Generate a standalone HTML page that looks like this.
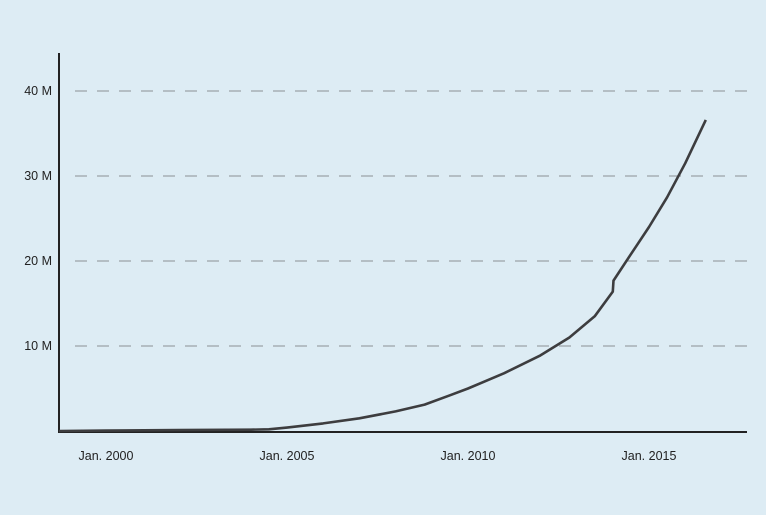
<!DOCTYPE html>
<html><head><meta charset="utf-8"><style>
html,body{margin:0;padding:0;background:#ddecf4;}
svg{display:block;font-family:"Liberation Sans",sans-serif;}
</style></head><body>
<svg id="chart" width="766" height="515" viewBox="0 0 766 515">
<rect width="766" height="515" fill="#ddecf4"/>
<g id="grid"></g>
<g id="ylabels"></g>
<g id="xlabels"></g>
<line x1="59" y1="53" x2="59" y2="432" stroke="#222" stroke-width="2"/>
<line x1="58" y1="432" x2="747" y2="432" stroke="#222" stroke-width="2"/>
<path id="line" fill="none" stroke="#3d3d3f" stroke-width="2.6" stroke-linejoin="round"/>
</svg>
<script>
const years = [1998.7, 2000, 2002, 2004, 2004.5, 2005, 2006, 2007, 2008, 2008.8, 2009.5, 2010, 2011, 2012, 2012.8, 2013.5, 2014.0, 2014.02, 2014.5, 2015, 2015.5, 2016, 2016.57];
const values = [0, 0.05, 0.1, 0.15, 0.2, 0.4, 0.9, 1.5, 2.3, 3.1, 4.2, 5.0, 6.8, 8.9, 11.0, 13.5, 16.4, 17.7, 20.8, 24.0, 27.5, 31.5, 36.6];
const yTicks = [10, 20, 30, 40];
const yTickLabels = ["10 M", "20 M", "30 M", "40 M"];
const xTicks = [2000, 2005, 2010, 2015];
const xTickLabels = ["Jan. 2000", "Jan. 2005", "Jan. 2010", "Jan. 2015"];

const x = yr => 106 + (yr - 2000) * 36.2;
const y = v => 431 - v * 8.5;
const NS = "http://www.w3.org/2000/svg";
const grid = document.getElementById('grid');
const yl = document.getElementById('ylabels');
const xl = document.getElementById('xlabels');
yTicks.forEach((t, i) => {
  const l = document.createElementNS(NS, 'line');
  
  
  l.setAttribute('x1', 75); l.setAttribute('x2', 748);
  l.setAttribute('y1', y(t)); l.setAttribute('y2', y(t));
  l.setAttribute('stroke', '#8a8f94'); l.setAttribute('stroke-width', '1');
  l.setAttribute('stroke-dasharray', '12,10');
  grid.appendChild(l);
  const tx = document.createElementNS(NS, 'text');
  
  
  tx.setAttribute('x', 52); tx.setAttribute('y', y(t) + 4);
  tx.setAttribute('text-anchor', 'end'); tx.setAttribute('font-size', '12.5'); tx.setAttribute('fill', '#222');
  tx.textContent = yTickLabels[i];
  yl.appendChild(tx);
});
xTicks.forEach((t, i) => {
  const tx = document.createElementNS(NS, 'text');
  
  
  tx.setAttribute('x', x(t)); tx.setAttribute('y', 460);
  tx.setAttribute('text-anchor', 'middle'); tx.setAttribute('font-size', '12.5'); tx.setAttribute('fill', '#222');
  tx.textContent = xTickLabels[i];
  xl.appendChild(tx);
});
document.getElementById('line').setAttribute('d',
  years.map((yr, i) => (i ? 'L' : 'M') + x(yr).toFixed(1) + ',' + y(values[i]).toFixed(1)).join(' '));
</script>
</body></html>
